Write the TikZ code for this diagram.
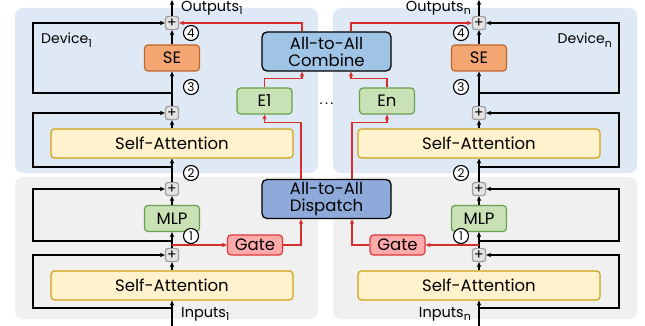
\documentclass[tikz,border=0pt]{standalone}
\usepackage{fontspec}
\setmainfont{Poppins}
\usetikzlibrary{arrows.meta}

\definecolor{devfill}{RGB}{222,233,245}
\definecolor{lowfill}{RGB}{240,240,240}
\definecolor{attnfill}{RGB}{255,242,204}
\definecolor{attnline}{RGB}{207,160,20}
\definecolor{sefill}{RGB}{244,166,114}
\definecolor{seline}{RGB}{190,100,45}
\definecolor{mlpfill}{RGB}{200,226,182}
\definecolor{mlpline}{RGB}{104,160,78}
\definecolor{gatefill}{RGB}{255,170,170}
\definecolor{gateline}{RGB}{222,55,55}
\definecolor{combfill}{RGB}{160,196,230}
\definecolor{dispfill}{RGB}{142,170,219}
\definecolor{redline}{RGB}{214,45,45}
\definecolor{plusfill}{RGB}{228,228,228}
\definecolor{plusline}{RGB}{160,160,160}

% lowered index of a label
\newcommand{\idx}[1]{\raisebox{-3.5pt}{\fontsize{11}{11}\selectfont #1}}

\tikzset{
  panel/.style={rounded corners=8pt, draw=none},
  box/.style={draw, rounded corners=3.5pt, line width=1.2pt, inner sep=0pt,
    align=center, font=\fontsize{16.5}{17}\selectfont},
  attn/.style={box, fill=attnfill, draw=attnline, minimum width=242pt, minimum height=29pt},
  sebox/.style={box, fill=sefill, draw=seline, minimum width=55pt, minimum height=26pt},
  mlpbox/.style={box, fill=mlpfill, draw=mlpline, minimum width=55pt, minimum height=26pt},
  gatebox/.style={box, fill=gatefill, draw=gateline, minimum width=55pt, minimum height=20pt},
  a2a/.style={box, draw=black, line width=1.3pt, rounded corners=5pt,
    minimum width=129pt, minimum height=39pt},
  plus/.style={draw=plusline, fill=plusfill, rounded corners=2.5pt, line width=1.3pt,
    minimum size=13pt, inner sep=0pt, font=\fontsize{14}{14}\selectfont},
  num/.style={circle, draw, fill=white, line width=1.1pt, minimum size=15pt,
    inner sep=0pt, font=\fontsize{12}{12}\selectfont},
  lbl/.style={inner sep=0pt, font=\fontsize{14.5}{15}\selectfont},
  devlbl/.style={inner sep=0pt, font=\fontsize{14}{15}\selectfont},
  conn/.style={line width=1.1pt, -{Stealth[length=5pt,width=4.5pt]}},
  redconn/.style={conn, draw=redline, color=redline},
}

\begin{document}
\begin{tikzpicture}[x=1pt, y=-1pt]
\useasboundingbox (0,0) rectangle (645,326);

% device panels
\fill[panel, devfill] (15,8) rectangle (318,173);
\fill[panel, lowfill] (15,177) rectangle (318,319);
\fill[panel, devfill] (333,8) rectangle (637,173);
\fill[panel, lowfill] (333,177) rectangle (637,319);

\node[devlbl, anchor=west] (devL) at (41,40) {Device\idx{1}};
\node[devlbl, anchor=east] (devR) at (612,40) {Device\idx{n}};

% left device column
\node[plus] (pL4) at (172,23) {+};
\node[sebox] (seL) at (172,58) {SE};
\node[plus] (pL3) at (172,113) {+};
\node[attn] (saLt) at (172,143.5) {Self-Attention};
\node[plus] (pL2) at (172,189) {+};
\node[mlpbox] (mlpL) at (172,218.5) {MLP};
\node[plus] (pL1) at (172,255) {+};
\node[attn] (saLb) at (172,285.5) {Self-Attention};
\node[gatebox] (gateL) at (255,245) {Gate};

% right device column
\node[plus] (pR4) at (479,23) {+};
\node[sebox] (seR) at (479,58) {SE};
\node[plus] (pR3) at (479,113) {+};
\node[attn] (saRt) at (479,143.5) {Self-Attention};
\node[plus] (pR2) at (479,189) {+};
\node[mlpbox] (mlpR) at (479,218.5) {MLP};
\node[plus] (pR1) at (479,255) {+};
\node[attn] (saRb) at (479,285.5) {Self-Attention};
\node[gatebox] (gateR) at (397.5,245) {Gate};

% shared all-to-all stage and experts
\node[a2a, fill=combfill] (comb) at (326.5,51.5) {All-to-All\\Combine};
\node[a2a, fill=dispfill] (disp) at (326.5,199) {All-to-All\\Dispatch};
\node[mlpbox] (e1) at (264.5,101) {E1};
\node[mlpbox] (en) at (387,101) {En};
\node[inner sep=0pt, font=\fontsize{14}{14}\selectfont] (dots) at (326.5,106) {\textperiodcentered\,\textperiodcentered\,\textperiodcentered};

% step markers
\node[num] (nL1) at (191,236) {1};
\node[num] (nL2) at (191,173) {2};
\node[num] (nL3) at (191,87) {3};
\node[num] (nL4) at (191,33) {4};
\node[num] (nR1) at (461,236) {1};
\node[num] (nR2) at (461,173) {2};
\node[num] (nR3) at (461,87) {3};
\node[num] (nR4) at (461,33) {4};

% inputs / outputs
\coordinate (inL) at (172,326);
\coordinate (outL) at (172,0);
\coordinate (inR) at (479,326);
\coordinate (outR) at (479,0);
\node[lbl, anchor=west] (tinL) at (181,314) {Inputs\idx{1}};
\node[lbl, anchor=west] (toutL) at (181,8) {Outputs\idx{1}};
\node[lbl, anchor=east] (tinR) at (471,314) {Inputs\idx{n}};
\node[lbl, anchor=east] (toutR) at (471,8) {Outputs\idx{n}};

% residual loop rails and branch points
\coordinate (railL) at (33,0);
\coordinate (railR) at (619,0);
\coordinate (bL1) at (172,308);
\coordinate (bL2) at (172,241);
\coordinate (bL3) at (172,167);
\coordinate (bL4) at (172,93);
\coordinate (bR1) at (479,308);
\coordinate (bR2) at (479,241);
\coordinate (bR3) at (479,167);
\coordinate (bR4) at (479,93);
\coordinate (gL) at (172,245);
\coordinate (gR) at (479,245);

% left main path
\draw[conn] (inL) -- (saLb);
\draw[conn] (saLb) -- (pL1);
\draw[conn] (pL1) -- (mlpL);
\draw[conn] (mlpL) -- (pL2);
\draw[conn] (pL2) -- (saLt);
\draw[conn] (saLt) -- (pL3);
\draw[conn] (pL3) -- (seL);
\draw[conn] (seL) -- (pL4);
\draw[conn] (pL4) -- (outL);
\draw[conn] (bL1) -- (bL1 -| railL) |- (pL1);
\draw[conn] (bL2) -- (bL2 -| railL) |- (pL2);
\draw[conn] (bL3) -- (bL3 -| railL) |- (pL3);
\draw[conn] (bL4) -- (bL4 -| railL) |- (pL4);

% right main path
\draw[conn] (inR) -- (saRb);
\draw[conn] (saRb) -- (pR1);
\draw[conn] (pR1) -- (mlpR);
\draw[conn] (mlpR) -- (pR2);
\draw[conn] (pR2) -- (saRt);
\draw[conn] (saRt) -- (pR3);
\draw[conn] (pR3) -- (seR);
\draw[conn] (seR) -- (pR4);
\draw[conn] (pR4) -- (outR);
\draw[conn] (bR1) -- (bR1 -| railR) |- (pR1);
\draw[conn] (bR2) -- (bR2 -| railR) |- (pR2);
\draw[conn] (bR3) -- (bR3 -| railR) |- (pR3);
\draw[conn] (bR4) -- (bR4 -| railR) |- (pR4);

% routing through the experts
\draw[redconn] (gL) -- (gateL);
\draw[redconn] (gR) -- (gateR);
\draw[redconn] (gateL.east) -| ([xshift=-25.5pt]disp.south);
\draw[redconn] (gateR.west) -| ([xshift=25.5pt]disp.south);
\draw[redconn] ([xshift=-25.5pt]disp.north) -- ++(0,-56) -| (e1.south);
\draw[redconn] ([xshift=25.5pt]disp.north) -- ++(0,-56) -| (en.south);
\draw[redconn] (e1.north) -- ++(0,-9) -| ([xshift=-24.5pt]comb.south);
\draw[redconn] (en.north) -- ++(0,-9) -| ([xshift=24.5pt]comb.south);
\draw[redconn] ([xshift=-24.5pt]comb.north) |- (pL4);
\draw[redconn] ([xshift=24.5pt]comb.north) |- (pR4);
\end{tikzpicture}
\end{document}
